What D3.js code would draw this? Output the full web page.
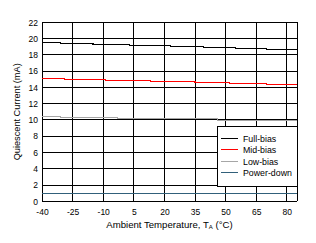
<!DOCTYPE html>
<html>
<head>
<meta charset="utf-8">
<script src="https://cdn.jsdelivr.net/npm/d3@7"></script>
<style>
  body { margin: 0; background: #fff; }
  text { font-family: "Liberation Sans", Arial, sans-serif; fill: #000; }
</style>
</head>
<body>
<div id="chart"></div>
<script>
const width = 316;
const height = 243;
const plot = {"left": 42, "right": 297, "top": 22.3, "bottom": 201.3};

// data (step-like traces)
const tempFull = [-40, -31, -15, 3, 23, 39, 55, 70, 85];
const fullBias = [19.53, 19.41, 19.29, 19.17, 19.04, 18.92, 18.80, 18.67, 18.67];
const tempMid = [-40, -29, -9, 13, 35, 52, 70, 85];
const midBias = [15.11, 14.99, 14.86, 14.74, 14.62, 14.50, 14.37, 14.37];
const tempLow = [-40, -31, -3, 46, 70, 85];
const lowBias = [10.44, 10.32, 10.17, 9.95, 9.95, 9.95];
const tempDown = [-40, 85];
const powerDown = [1.0, 1.0];

const xTicks = [-40, -25, -10, 5, 20, 35, 50, 65, 80];
const yTicks = [0, 2, 4, 6, 8, 10, 12, 14, 16, 18, 20, 22];

const series = [
  {"name": "Full-bias", "temps": tempFull, "vals": fullBias, "color": "#000000"},
  {"name": "Mid-bias", "temps": tempMid, "vals": midBias, "color": "#ff0000"},
  {"name": "Low-bias", "temps": tempLow, "vals": lowBias, "color": "#a6a6a6"},
  {"name": "Power-down", "temps": tempDown, "vals": powerDown, "color": "#31607a"}
];

let x = d3.scaleLinear().domain([-40, 85]).range([plot.left, plot.right]);
let y = d3.scaleLinear().domain([0, 22]).range([plot.bottom, plot.top]);

let svg = d3.select("#chart").append("svg")
  .attr("width", width)
  .attr("height", height);

// grid
let grid = svg.append("g").attr("shape-rendering", "crispEdges");
grid.selectAll(".vg")
  .data(xTicks.concat([85]))
  .enter().append("line")
  .attr("x1", d => x(d)).attr("x2", d => x(d))
  .attr("y1", plot.top).attr("y2", plot.bottom)
  .attr("stroke", "#000").attr("stroke-width", 1);
grid.selectAll(".hg")
  .data(yTicks)
  .enter().append("line")
  .attr("y1", d => y(d)).attr("y2", d => y(d))
  .attr("x1", plot.left).attr("x2", plot.right)
  .attr("stroke", "#000").attr("stroke-width", 1);

// axes labels (no tick marks drawn), plain hyphen minus
let xAxis = d3.axisBottom(x).tickValues(xTicks).tickSize(0).tickPadding(8)
  .tickFormat(d => String(d));
let gX = svg.append("g")
  .attr("transform", "translate(0," + plot.bottom + ")")
  .call(xAxis);
gX.select(".domain").remove();
gX.selectAll("text").style("font-size", "8.5px").attr("font-family", null);

let yAxis = d3.axisLeft(y).tickValues(yTicks).tickSize(0).tickPadding(4)
  .tickFormat(d => String(d));
let gY = svg.append("g")
  .attr("transform", "translate(" + plot.left + ",0)")
  .call(yAxis);
gY.select(".domain").remove();
gY.selectAll("text").style("font-size", "8.5px").attr("font-family", null);

// lines
let line = d3.line()
  .x(d => x(d[0]))
  .y(d => y(d[1]))
  .curve(d3.curveStepAfter);

svg.append("g").attr("shape-rendering", "crispEdges")
  .selectAll("path")
  .data(series)
  .enter().append("path")
  .attr("d", d => line(d.temps.map((t, i) => [t, d.vals[i]])))
  .attr("fill", "none")
  .attr("stroke", d => d.color)
  .attr("stroke-width", 1.2);

// legend
let lg = svg.append("g").attr("transform", "translate(217,126)");
lg.append("rect")
  .attr("width", 80).attr("height", 60)
  .attr("fill", "#fff").attr("stroke", "#000")
  .attr("shape-rendering", "crispEdges");
let items = lg.selectAll(".item")
  .data(series)
  .enter().append("g")
  .attr("transform", (d, i) => "translate(0," + (12.3 + i * 11.5) + ")");
items.append("line")
  .attr("x1", 4).attr("x2", 21)
  .attr("stroke", d => d.color).attr("stroke-width", 1.2)
  .attr("shape-rendering", "crispEdges");
items.append("text")
  .attr("x", 26).attr("y", 3.3)
  .style("font-size", "8.8px")
  .text(d => d.name);

// titles
let xt = svg.append("text")
  .attr("x", (plot.left + plot.right) / 2)
  .attr("y", 228)
  .attr("text-anchor", "middle")
  .style("font-size", "9.6px");
xt.append("tspan").text("Ambient Temperature, T");
xt.append("tspan").style("font-size", "6px").attr("dy", 1).text("A");
xt.append("tspan").attr("dy", -1).text(" (°C)");

svg.append("text")
  .attr("transform", "translate(19.5," + ((plot.top + plot.bottom) / 2) + ") rotate(-90)")
  .attr("text-anchor", "middle")
  .style("font-size", "9.2px")
  .text("Quiescent Current (mA)");
</script>
</body>
</html>
